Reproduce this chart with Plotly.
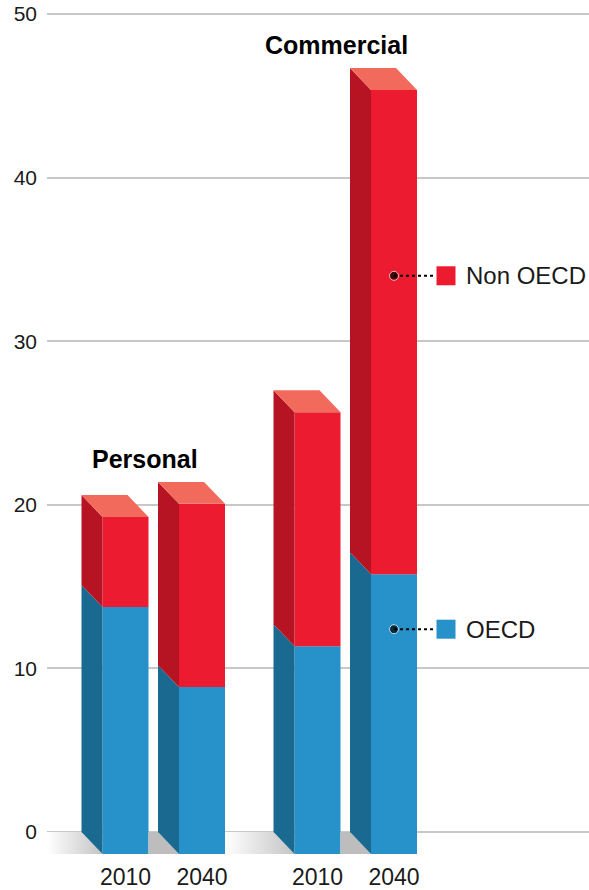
import plotly.graph_objects as go

# data
groups = ['Personal', 'Commercial']
bar_group = [0, 0, 1, 1]
years = ['2010', '2040', '2010', '2040']
oecd = [15.1, 10.2, 12.7, 17.1]
non_oecd = [5.5, 11.2, 14.3, 29.6]
series_names = ['OECD', 'Non OECD']
y_ticks = [0, 10, 20, 30, 40, 50]

# layout / style (x units are screen pixels)
first_center = 125.5
bar_step = 76.5
group_step = 192
bar_width = 46
depth_x = 21
depth_y = 1.34
legend_y = [12.4, 34.0]

front_colors = ['#2791c9', '#ed1b30']
side_colors = ['#1a6990', '#b71423']
top_color = '#f26a5b'
font = 'Liberation Sans, Arial, sans-serif'
text_color = '#1a1a1a'

centers = []
seen = {}
for g in bar_group:
	i = seen.get(g, 0)
	seen[g] = i + 1
	centers.append(first_center + g * group_step + i * bar_step)

fig = go.Figure()

# floor shadow between bars
lefts = [c - bar_width / 2 for c in centers]
rights = [c + bar_width / 2 for c in centers]
gap_starts = [47] + rights[:-1]
for k, start in enumerate(gap_starts):
	new_group = k == 0 or bar_group[k] != bar_group[k - 1]
	grad = [[0, '#ffffff'], [1, '#c4c4c4']] if new_group else [[0, '#bdbdbd'], [1, '#bdbdbd']]
	fig.add_trace(go.Scatter(
		x=[start, lefts[k] - depth_x, lefts[k], start, start],
		y=[0, 0, -depth_y, -depth_y, 0],
		mode='lines', line=dict(width=0), fill='toself',
		fillgradient=dict(type='horizontal', colorscale=grad),
		hoverinfo='skip', showlegend=False
	))

# front faces
stacks = [oecd, non_oecd]
bases = [[0] * len(oecd), oecd]
for s, name in enumerate(series_names):
	fig.add_trace(go.Bar(
		x=centers,
		y=stacks[s],
		base=[b - depth_y for b in bases[s]],
		width=bar_width,
		marker=dict(color=front_colors[s], line=dict(width=0)),
		name=name,
		showlegend=False
	))

# side and top faces
for k, c in enumerate(centers):
	l = lefts[k]
	r = rights[k]
	for s in range(len(series_names)):
		b = bases[s][k]
		t = b + stacks[s][k]
		fig.add_trace(go.Scatter(
			x=[l, l, l - depth_x, l - depth_x, l],
			y=[b - depth_y, t - depth_y, t, b, b - depth_y],
			mode='lines', line=dict(width=0), fill='toself',
			fillcolor=side_colors[s], hoverinfo='skip', showlegend=False
		))
	top = oecd[k] + non_oecd[k]
	fig.add_trace(go.Scatter(
		x=[l, r, r - depth_x, l - depth_x, l],
		y=[top - depth_y, top - depth_y, top, top, top - depth_y],
		mode='lines', line=dict(width=0), fill='toself',
		fillcolor=top_color, hoverinfo='skip', showlegend=False
	))

# group titles
for g, title in enumerate(groups):
	idx = [k for k in range(len(centers)) if bar_group[k] == g]
	tallest = max(oecd[k] + non_oecd[k] for k in idx)
	fig.add_annotation(
		x=centers[idx[0]] + 19, y=tallest + 1.4, text='<b>' + title + '</b>',
		showarrow=False, xanchor='center', yanchor='middle',
		font=dict(family=font, size=25, color='#000000')
	)

# legend with leader lines pointing at the last bar
last = centers[-1]
for s, name in enumerate(series_names):
	fig.add_trace(go.Scatter(
		x=[last, last + 41], y=[legend_y[s], legend_y[s]],
		mode='lines+markers',
		line=dict(color='#000000', width=2, dash='dot'),
		marker=dict(size=[9, 0], color='#000000'),
		hoverinfo='skip', showlegend=False
	))
	fig.add_trace(go.Scatter(
		x=[last + 52], y=[legend_y[s]], mode='markers',
		marker=dict(symbol='square', size=19, color=front_colors[s]),
		hoverinfo='skip', showlegend=False
	))
	fig.add_annotation(
		x=last + 70, y=legend_y[s], text=name, showarrow=False,
		xanchor='left', yanchor='middle',
		font=dict(family=font, size=24, color=text_color)
	)

fig.update_layout(
	width=589,
	height=890,
	margin=dict(l=47, r=0, t=0, b=33),
	barmode='overlay',
	plot_bgcolor='white',
	paper_bgcolor='white',
	font=dict(family=font, size=21, color=text_color),
	xaxis=dict(
		range=[47, 589], showgrid=False, zeroline=False, showline=False,
		tickvals=centers, ticktext=years, ticks='', ticklabelstandoff=6,
		tickfont=dict(size=23, color=text_color)
	),
	yaxis=dict(
		range=[-1.40, 50.854], tickvals=y_ticks, showgrid=True,
		gridcolor='#c8c8c8', gridwidth=1.5, zeroline=False, showline=False,
		ticks='', ticklabelstandoff=9, ticklabeloverflow='allow',
		tickfont=dict(size=21, color=text_color)
	)
)

# drop the default page margin so the figure sits at the window corner
fig.write_html(
	'out.html',
	config={'displayModeBar': False},
	post_script="document.body.style.margin='0';"
)
